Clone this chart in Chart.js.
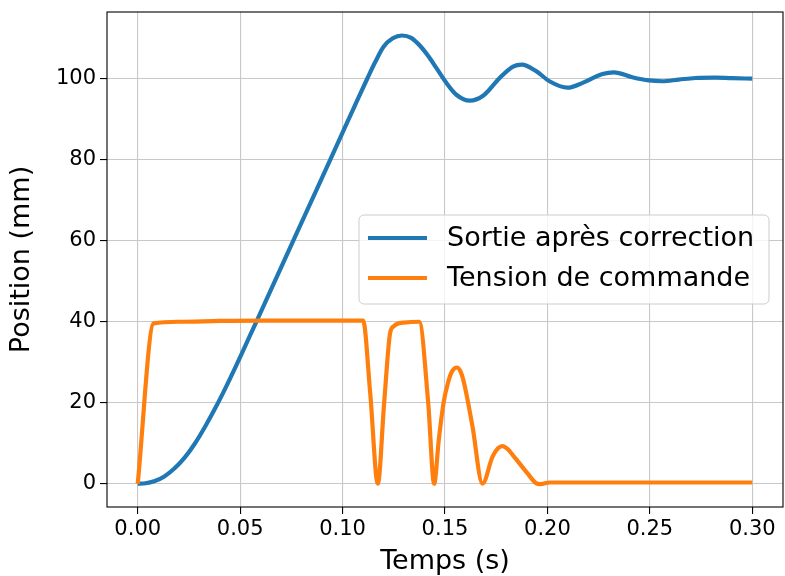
<!DOCTYPE html>
<html>
<head>
<meta charset="utf-8">
<script src="https://cdn.jsdelivr.net/npm/chart.js@4.4.0/dist/chart.umd.min.js"></script>
<style>
  html, body { margin: 0; padding: 0; background: #fff; }
  canvas { display: block; }
</style>
</head>
<body>
<canvas id="chart" width="785" height="576"></canvas>
<script>
// values
const sortieT = [0, 0.003, 0.008, 0.013, 0.018, 0.023, 0.028, 0.033, 0.038, 0.043, 0.048, 0.053, 0.058, 0.068, 0.078, 0.088, 0.098, 0.106, 0.1122, 0.116, 0.120, 0.1245, 0.129, 0.1335, 0.1379, 0.142, 0.146, 0.1508, 0.1557, 0.1621, 0.1686, 0.1767, 0.1832, 0.1875, 0.1945, 0.201, 0.2099, 0.2172, 0.2269, 0.2325, 0.2414, 0.2495, 0.256, 0.2641, 0.2722, 0.2819, 0.29, 0.3];
const sortieV = [0, 0.05, 0.6, 1.8, 3.8, 6.5, 10.0, 14.2, 18.8, 23.8, 29.1, 34.6, 40.1, 51.2, 62.3, 73.4, 84.5, 93.4, 100.2, 104.2, 107.9, 110.0, 110.7, 110.1, 108.1, 105.5, 102.5, 98.9, 96.0, 94.6, 95.8, 100.2, 103.0, 103.5, 101.9, 99.4, 97.8, 99, 101.2, 101.6, 100.4, 99.6, 99.4, 99.8, 100.2, 100.3, 100.15, 100.05];

const tensionT = [0, 0.0078, 0.02, 0.04, 0.06, 0.11, 0.1135, 0.1172, 0.1203, 0.1232, 0.125, 0.1268, 0.13, 0.1374, 0.1418, 0.1447, 0.147, 0.1493, 0.1515, 0.1535, 0.1558, 0.1575, 0.1593, 0.1634, 0.1683, 0.1732, 0.176, 0.178, 0.1805, 0.1837, 0.1902, 0.1943, 0.1967, 0.201, 0.3];
const tensionV = [0, 39.6, 40.0, 40.2, 40.3, 40.3, 22.3, 0, 20, 37.2, 38.9, 39.5, 39.8, 40.0, 20, 0, 11, 20, 25, 27.8, 28.7, 27.8, 24.9, 14.2, 0, 6.7, 8.8, 9.3, 8.6, 6.7, 2.6, 0.2, -0.1, 0.3, 0.3];

const xTicks = [0, 0.05, 0.10, 0.15, 0.20, 0.25, 0.30];
const yTicks = [0, 20, 40, 60, 80, 100];
const seriesLabels = ["Sortie après correction", "Tension de commande"];
const seriesColors = ["#1f77b4", "#ff7f0e"];

Chart.defaults.font.family = "'DejaVu Sans', sans-serif";
Chart.defaults.color = "#000";

// matplotlib style box around the plot
const spines = {
    id: "spines",
    afterDatasetsDraw(chart) {
        const a = chart.chartArea;
        const ctx = chart.ctx;
        ctx.save();
        ctx.strokeStyle = "#000";
        ctx.lineWidth = 1.1;
        ctx.strokeRect(a.left, a.top, a.right - a.left, a.bottom - a.top);
        ctx.restore();
    }
};

// legend drawn inside the axes, right of centre
const innerLegend = {
    id: "innerLegend",
    afterDraw(chart) {
        const ctx = chart.ctx;
        const x = 359, y = 215, w = 410, h = 89, r = 5;
        ctx.save();
        ctx.beginPath();
        ctx.roundRect(x, y, w, h, r);
        ctx.fillStyle = "rgba(255,255,255,0.8)";
        ctx.fill();
        ctx.strokeStyle = "#cccccc";
        ctx.lineWidth = 1;
        ctx.stroke();
        ctx.font = "27px 'DejaVu Sans'";
        ctx.textBaseline = "middle";
        chart.data.datasets.forEach(function (ds, i) {
            const ly = 238 + i * 40;
            ctx.strokeStyle = ds.borderColor;
            ctx.lineWidth = 4.2;
            ctx.beginPath();
            ctx.moveTo(368, ly);
            ctx.lineTo(427, ly);
            ctx.stroke();
            ctx.fillStyle = "#000";
            ctx.fillText(ds.label, 447, ly + 1);
        });
        ctx.restore();
    }
};

const ctx = document.getElementById("chart").getContext("2d");
new Chart(ctx, {
    type: "line",
    data: {
        datasets: [{
            label: seriesLabels[0],
            data: sortieT.map((t, i) => ({ x: t, y: sortieV[i] })),
            borderColor: seriesColors[0],
            borderWidth: 4.2,
            pointRadius: 0,
            cubicInterpolationMode: "monotone",
            borderJoinStyle: "round",
            order: 1
        }, {
            label: seriesLabels[1],
            data: tensionT.map((t, i) => ({ x: t, y: tensionV[i] })),
            borderColor: seriesColors[1],
            borderWidth: 4.2,
            pointRadius: 0,
            cubicInterpolationMode: "monotone",
            borderJoinStyle: "round",
            order: 0
        }]
    },
    options: {
        responsive: false,
        animation: false,
        layout: { padding: { top: 12, right: 2, left: 0, bottom: 0 } },
        plugins: {
            legend: { display: false },
            tooltip: { enabled: false }
        },
        scales: {
            x: {
                type: "linear",
                min: -0.015,
                max: 0.315,
                afterBuildTicks: function (axis) {
                    axis.ticks = xTicks.map(v => ({ value: v }));
                },
                afterFit: function (axis) {
                    axis.height = 69;
                    axis.paddingLeft = 0;
                    axis.paddingRight = 0;
                },
                ticks: {
                    callback: v => v.toFixed(2),
                    font: { size: 21 },
                    padding: 3,
                    maxRotation: 0,
                    autoSkip: false
                },
                grid: { color: "#c8c8c8", lineWidth: 1.1, tickColor: "#000", tickLength: 7, tickWidth: 1.1 },
                border: { display: false },
                title: { display: true, text: "Temps (s)", font: { size: 27, lineHeight: 1.0 }, padding: { top: 2, bottom: 1 } }
            },
            y: {
                min: -5.75,
                max: 116.5,
                afterBuildTicks: function (axis) {
                    axis.ticks = yTicks.map(v => ({ value: v }));
                },
                afterFit: function (axis) {
                    axis.width = 107;
                    axis.paddingTop = 0;
                    axis.paddingBottom = 0;
                },
                ticks: { font: { size: 21 }, padding: 4 },
                grid: { color: "#c8c8c8", lineWidth: 1.1, tickColor: "#000", tickLength: 7, tickWidth: 1.1 },
                border: { display: false },
                title: { display: true, text: "Position (mm)", font: { size: 27, lineHeight: 1.0 }, padding: { top: 8, bottom: 2 } }
            }
        }
    },
    plugins: [spines, innerLegend]
});
</script>
</body>
</html>
